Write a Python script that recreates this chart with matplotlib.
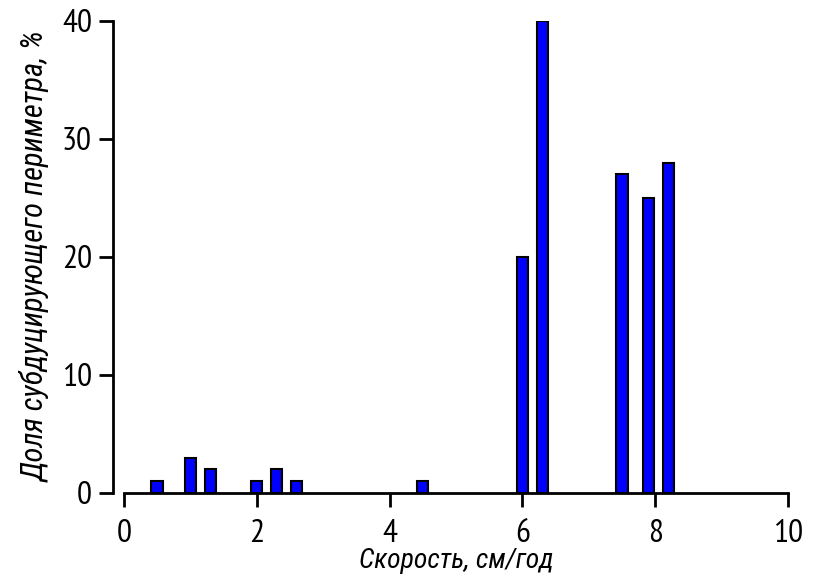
import matplotlib
matplotlib.use("Agg")
import matplotlib.pyplot as plt

# speed, cm/yr and share of subducting perimeter, %
speed = [0.5, 1.0, 1.3, 2.0, 2.3, 2.6, 4.5, 6.0, 6.3, 7.5, 7.9, 8.2]
share = [1, 3, 2, 1, 2, 1, 1, 20, 40, 27, 25, 28]

tick_font = ['PT Sans Narrow', 'Roboto Condensed', 'DejaVu Sans']
label_font = ['Roboto Condensed', 'DejaVu Sans']
plt.rcParams['font.family'] = tick_font

fig = plt.figure(figsize=(8.15, 5.81), dpi=100)
ax = fig.add_axes([0.152, 0.1515, 0.815, 0.8124])

ax.bar(speed, share, width=0.17, color='#0000ff', edgecolor='black', linewidth=1.5)

ax.set_xlim(0, 10)
ax.set_ylim(0, 40)
ax.set_xticks([0, 2, 4, 6, 8, 10])
ax.set_yticks([0, 10, 20, 30, 40])

for s in ['top', 'right']:
    ax.spines[s].set_visible(False)
ax.spines['left'].set_position(('outward', 8))
ax.spines['left'].set_linewidth(2)
ax.spines['bottom'].set_linewidth(2)
ax.tick_params(direction='out', length=10, width=2, labelsize=24, pad=5)
ax.tick_params(axis='x', pad=9)

ax.set_xlabel('Скорость, см/год', fontsize=20, style='italic', family=label_font, labelpad=-1)
ax.set_ylabel('Доля субдуцирующего периметра, %', fontsize=22, style='italic',
              family=label_font, labelpad=8)

fig.savefig('out.png', dpi=100)
